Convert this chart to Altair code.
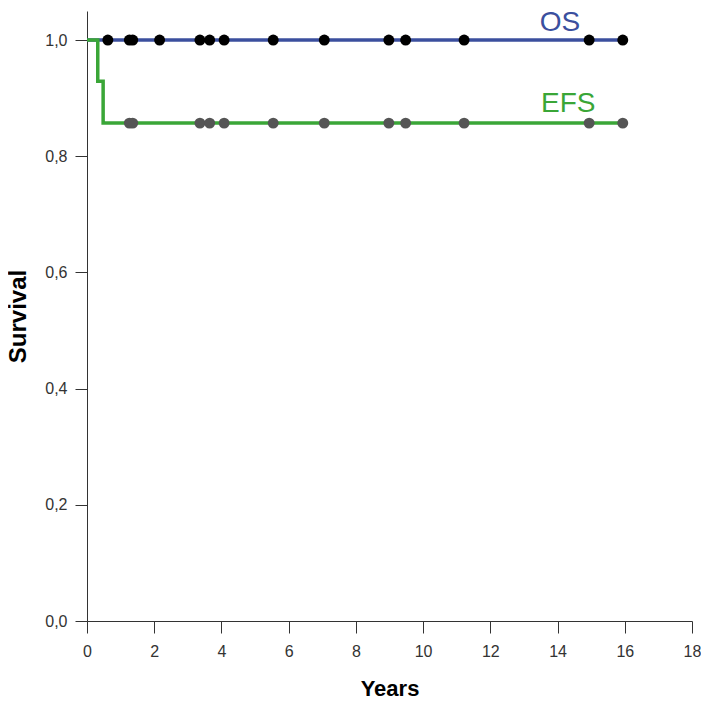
import altair as alt
import pandas as pd

# Kaplan-Meier step curves
os_time = [0.0, 15.94]
os_surv = [1.0, 1.0]
efs_time = [0.0, 0.32, 0.48, 15.94]
efs_surv = [1.0, 0.929, 0.857, 0.857]

# censoring marks
os_censor = [0.62, 1.26, 1.36, 2.16, 3.36, 3.65, 4.08, 5.54, 7.06, 8.98, 9.48, 11.22, 14.94, 15.94]
efs_censor = [1.26, 1.36, 3.36, 3.65, 4.08, 5.54, 7.06, 8.98, 9.48, 11.22, 14.94, 15.94]

# curve labels
label_text = ["OS", "EFS"]
label_x = [14.07, 14.32]
label_y = [1.016, 0.8765]

x_ticks = [0, 2, 4, 6, 8, 10, 12, 14, 16, 18]
y_ticks = [0.0, 0.2, 0.4, 0.6, 0.8, 1.0]

BLUE = "#3b4f9e"
GREEN = "#3aa637"

lines = pd.concat([
    pd.DataFrame({"t": os_time, "s": os_surv, "curve": "OS"}),
    pd.DataFrame({"t": efs_time, "s": efs_surv, "curve": "EFS"}),
])
os_pts = pd.DataFrame({"t": os_censor, "s": [os_surv[-1]] * len(os_censor)})
efs_pts = pd.DataFrame({"t": efs_censor, "s": [efs_surv[-1]] * len(efs_censor)})
labels = pd.DataFrame({"text": label_text, "t": label_x, "s": label_y})

xscale = alt.Scale(domain=[0, 18], nice=False, zero=False)
yscale = alt.Scale(domain=[0, 1.05], nice=False, zero=False)

xaxis = alt.Axis(values=x_ticks, title="Years", grid=False, tickSize=12,
                 labelPadding=10, titlePadding=19, labelFontSize=16,
                 titleFontSize=22, titleFontWeight="bold", labelFont="Liberation Sans",
                 titleFont="Liberation Sans", domainColor="#333333", tickColor="#333333",
                 labelColor="#333333", titleColor="#000000", labelFlush=False)
yaxis = alt.Axis(values=y_ticks, title="Survival", grid=False, tickSize=12,
                 labelPadding=8, titlePadding=14, labelFontSize=16,
                 titleFontSize=24, titleFontWeight="bold", labelFont="Liberation Sans",
                 titleFont="Liberation Sans", domainColor="#333333", tickColor="#333333",
                 labelColor="#333333", titleColor="#000000", labelFlush=False,
                 labelExpr="replace(format(datum.value, '.1f'), '.', ',')")

line_chart = alt.Chart(lines).mark_line(interpolate="step-after", strokeWidth=3.5).encode(
    x=alt.X("t:Q", scale=xscale, axis=xaxis),
    y=alt.Y("s:Q", scale=yscale, axis=yaxis),
    color=alt.Color("curve:N", scale=alt.Scale(domain=["OS", "EFS"], range=[BLUE, GREEN]), legend=None),
    detail="curve:N",
)

os_dots = alt.Chart(os_pts).mark_circle(size=120, color="#000000", opacity=1).encode(
    x=alt.X("t:Q", scale=xscale), y=alt.Y("s:Q", scale=yscale))
efs_dots = alt.Chart(efs_pts).mark_circle(size=120, color="#555555", opacity=1).encode(
    x=alt.X("t:Q", scale=xscale), y=alt.Y("s:Q", scale=yscale))

text = alt.Chart(labels).mark_text(fontSize=28, font="Liberation Sans", baseline="alphabetic",
                                   align="center").encode(
    x=alt.X("t:Q", scale=xscale), y=alt.Y("s:Q", scale=yscale),
    text="text:N",
    color=alt.Color("text:N", scale=alt.Scale(domain=["OS", "EFS"], range=[BLUE, GREEN]), legend=None),
)

chart = alt.layer(line_chart, os_dots, efs_dots, text).properties(
    width=605, height=610,
    autosize=alt.AutoSizeParams(type="none"),
    padding={"left": 79, "top": 3, "right": 9, "bottom": 81},
).configure(background="white").configure_view(strokeWidth=0, stroke="transparent")

chart.save("out.html", embed_options={"renderer": "svg", "actions": False})
